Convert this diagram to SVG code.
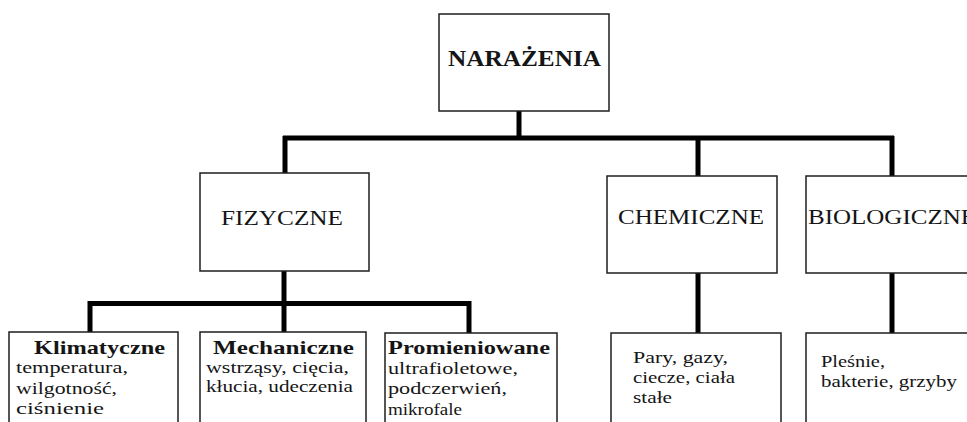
<svg xmlns="http://www.w3.org/2000/svg" width="967" height="422" viewBox="0 0 967 422">
<style>
.box{fill:#fff;stroke:#1e1e1e;stroke-width:1.5}
.con{fill:none;stroke:#000;stroke-width:5;stroke-linecap:butt}
text{font-family:"Liberation Serif","Times New Roman",serif;fill:#151515}
.t{font-size:21px}
.b{font-weight:bold}
.s{font-size:17.5px}
.m{font-size:16.5px}
.h{font-size:19px;font-weight:bold}
</style>
<rect width="967" height="422" fill="#fff"/>
<g id="connectors">
<line class="con" x1="519" y1="111" x2="519" y2="138"/>
<line class="con" x1="283" y1="138" x2="894" y2="138"/>
<line class="con" x1="285" y1="136" x2="285" y2="173"/>
<line class="con" x1="698" y1="136" x2="698" y2="176"/>
<line class="con" x1="892" y1="136" x2="892" y2="176"/>
<line class="con" x1="284" y1="271" x2="284" y2="332"/>
<line class="con" x1="88" y1="303.5" x2="471" y2="303.5"/>
<line class="con" x1="90" y1="301" x2="90" y2="332"/>
<line class="con" x1="469" y1="301" x2="469" y2="333"/>
<line class="con" x1="698" y1="273" x2="698" y2="333"/>
<line class="con" x1="892" y1="273" x2="892" y2="333"/>
</g>
<g id="narazenia">
<rect class="box" x="439" y="14" width="170" height="97"/>
<text class="b" x="448" y="66" font-size="24" textLength="153" lengthAdjust="spacingAndGlyphs">NARAŻENIA</text>
</g>
<g id="fizyczne">
<rect class="box" x="200" y="173" width="169" height="98"/>
<text class="t" x="221" y="225" textLength="122" lengthAdjust="spacingAndGlyphs">FIZYCZNE</text>
</g>
<g id="chemiczne">
<rect class="box" x="607" y="176" width="170" height="97"/>
<text class="t" x="618" y="224" textLength="146" lengthAdjust="spacingAndGlyphs">CHEMICZNE</text>
</g>
<g id="biologiczne">
<rect class="box" x="806" y="176" width="200" height="97"/>
<text class="t" x="808" y="224" textLength="168" lengthAdjust="spacingAndGlyphs">BIOLOGICZNE</text>
</g>
<g id="klimatyczne">
<rect class="box" x="9" y="332" width="169" height="110"/>
<text class="h" x="34" y="354" textLength="131" lengthAdjust="spacingAndGlyphs">Klimatyczne</text>
<text class="s" x="16" y="373" textLength="112" lengthAdjust="spacingAndGlyphs">temperatura,</text>
<text class="s" x="16" y="394" textLength="101" lengthAdjust="spacingAndGlyphs">wilgotność,</text>
<text class="s" x="16" y="414" textLength="88" lengthAdjust="spacingAndGlyphs">ciśnienie</text>
</g>
<g id="mechaniczne">
<rect class="box" x="200" y="332" width="166" height="110"/>
<text class="h" x="213" y="354" textLength="141" lengthAdjust="spacingAndGlyphs">Mechaniczne</text>
<text class="m" x="206" y="373" textLength="143" lengthAdjust="spacingAndGlyphs">wstrząsy, cięcia,</text>
<text class="m" x="206" y="392" textLength="147" lengthAdjust="spacingAndGlyphs">kłucia, udeczenia</text>
</g>
<g id="promieniowane">
<rect class="box" x="385" y="333" width="172" height="110"/>
<text class="h" x="388" y="354" textLength="162" lengthAdjust="spacingAndGlyphs">Promieniowane</text>
<text class="s" x="388" y="374" textLength="130" lengthAdjust="spacingAndGlyphs">ultrafioletowe,</text>
<text class="s" x="388" y="394" textLength="119" lengthAdjust="spacingAndGlyphs">podczerwień,</text>
<text class="s" x="388" y="415" textLength="74" lengthAdjust="spacingAndGlyphs">mikrofale</text>
</g>
<g id="chemiczne-opis">
<rect class="box" x="611" y="333" width="170" height="110"/>
<text class="s" x="633" y="363" textLength="95" lengthAdjust="spacingAndGlyphs">Pary, gazy,</text>
<text class="s" x="633" y="383" textLength="102" lengthAdjust="spacingAndGlyphs">ciecze, ciała</text>
<text class="s" x="633" y="403" textLength="39" lengthAdjust="spacingAndGlyphs">stałe</text>
</g>
<g id="biologiczne-opis">
<rect class="box" x="806" y="333" width="200" height="110"/>
<text class="s" x="821" y="367" textLength="64" lengthAdjust="spacingAndGlyphs">Pleśnie,</text>
<text class="s" x="821" y="387" textLength="136" lengthAdjust="spacingAndGlyphs">bakterie, grzyby</text>
</g>
</svg>
